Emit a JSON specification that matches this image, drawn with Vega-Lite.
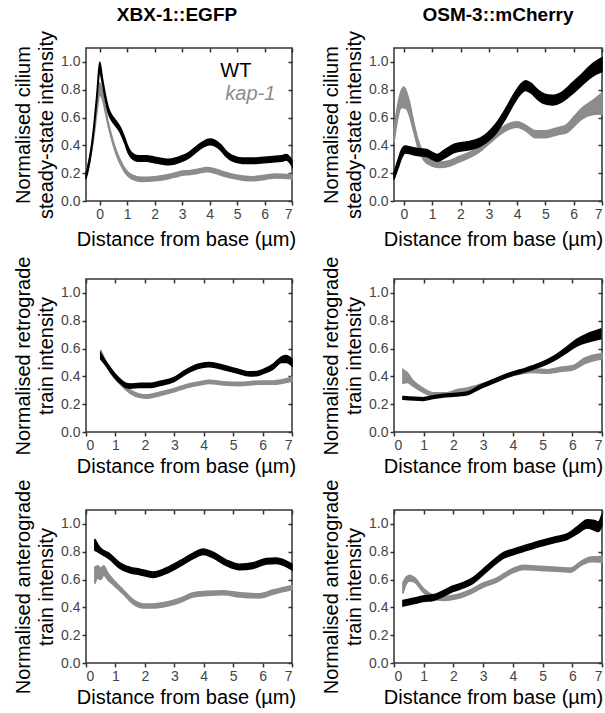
{
"$schema": "https://vega.github.io/schema/vega-lite/v6.json",
"padding": {"left": 12, "top": 4, "right": 0, "bottom": 0},
"bounds": "flush",
"columns": 2,
"spacing": {"row": 78, "column": 102},
"config": {
  "font": "Liberation Sans",
  "view": {"stroke": "#333", "strokeWidth": 1.5},
  "axis": {"domain": false, "grid": false, "tickColor": "#333", "tickWidth": 1.5, "tickSize": 4,
    "labelFont": "Liberation Sans", "labelFontSize": 14, "labelColor": "#444", "labelPadding": 2,
    "titleFont": "Liberation Sans", "titleFontSize": 20, "titleFontWeight": "normal", "titleColor": "#000"},
  "title": {"font": "Liberation Sans", "fontSize": 19, "fontWeight": "bold", "color": "#000", "anchor": "middle", "frame": "group", "offset": 6}
},
"datasets": {
"p1w": [
{"x":-0.5,"lo":0.16,"hi":0.2},{"x":-0.4,"lo":0.24,"hi":0.28},{"x":-0.3,"lo":0.36,"hi":0.4},{"x":-0.2,"lo":0.53,"hi":0.57},{"x":-0.1,"lo":0.74,"hi":0.78},{"x":0,"lo":0.93,"hi":1.0},{"x":0.1,"lo":0.84,"hi":0.88},{"x":0.2,"lo":0.73,"hi":0.77},{"x":0.3,"lo":0.64,"hi":0.68},{"x":0.4,"lo":0.59,"hi":0.63},{"x":0.5,"lo":0.56,"hi":0.6},{"x":0.6,"lo":0.535,"hi":0.575},{"x":0.75,"lo":0.49,"hi":0.53},{"x":0.9,"lo":0.42,"hi":0.46},{"x":1.05,"lo":0.34,"hi":0.38},{"x":1.2,"lo":0.3,"hi":0.34},{"x":1.4,"lo":0.285,"hi":0.325},{"x":1.7,"lo":0.285,"hi":0.325},{"x":2.0,"lo":0.275,"hi":0.315},{"x":2.5,"lo":0.26,"hi":0.3},{"x":3.0,"lo":0.285,"hi":0.325},{"x":3.25,"lo":0.31,"hi":0.35},{"x":3.5,"lo":0.35,"hi":0.39},{"x":3.75,"lo":0.385,"hi":0.425},{"x":4.0,"lo":0.405,"hi":0.445},{"x":4.2,"lo":0.395,"hi":0.435},{"x":4.4,"lo":0.365,"hi":0.405},{"x":4.6,"lo":0.32,"hi":0.36},{"x":4.8,"lo":0.29,"hi":0.33},{"x":5.2,"lo":0.27,"hi":0.31},{"x":5.7,"lo":0.27,"hi":0.31},{"x":6.3,"lo":0.28,"hi":0.32},{"x":6.6,"lo":0.285,"hi":0.325},{"x":6.8,"lo":0.295,"hi":0.335},{"x":6.9,"lo":0.28,"hi":0.32},{"x":7.0,"lo":0.25,"hi":0.29}
],
"p1k": [
{"x":-0.5,"lo":0.185,"hi":0.215},{"x":-0.4,"lo":0.255,"hi":0.285},{"x":-0.3,"lo":0.355,"hi":0.385},{"x":-0.2,"lo":0.48,"hi":0.52},{"x":-0.1,"lo":0.64,"hi":0.7},{"x":0,"lo":0.76,"hi":0.85},{"x":0.1,"lo":0.73,"hi":0.79},{"x":0.2,"lo":0.64,"hi":0.68},{"x":0.3,"lo":0.545,"hi":0.575},{"x":0.4,"lo":0.465,"hi":0.495},{"x":0.5,"lo":0.395,"hi":0.425},{"x":0.6,"lo":0.335,"hi":0.365},{"x":0.75,"lo":0.265,"hi":0.295},{"x":0.9,"lo":0.21,"hi":0.24},{"x":1.05,"lo":0.175,"hi":0.205},{"x":1.2,"lo":0.155,"hi":0.185},{"x":1.5,"lo":0.14,"hi":0.17},{"x":2.0,"lo":0.145,"hi":0.175},{"x":2.5,"lo":0.16,"hi":0.19},{"x":2.8,"lo":0.175,"hi":0.205},{"x":3.0,"lo":0.185,"hi":0.215},{"x":3.3,"lo":0.19,"hi":0.22},{"x":3.6,"lo":0.2,"hi":0.23},{"x":3.9,"lo":0.21,"hi":0.24},{"x":4.2,"lo":0.2,"hi":0.23},{"x":4.5,"lo":0.18,"hi":0.21},{"x":4.8,"lo":0.165,"hi":0.195},{"x":5.2,"lo":0.15,"hi":0.18},{"x":5.6,"lo":0.145,"hi":0.175},{"x":6.0,"lo":0.155,"hi":0.185},{"x":6.4,"lo":0.165,"hi":0.195},{"x":7.0,"lo":0.16,"hi":0.19}
],
"p2w": [
{"x":-0.35,"lo":0.155,"hi":0.205},{"x":-0.2,"lo":0.24,"hi":0.3},{"x":-0.1,"lo":0.3,"hi":0.36},{"x":0.05,"lo":0.345,"hi":0.395},{"x":0.3,"lo":0.335,"hi":0.385},{"x":0.55,"lo":0.325,"hi":0.375},{"x":0.8,"lo":0.32,"hi":0.37},{"x":1.0,"lo":0.3,"hi":0.35},{"x":1.18,"lo":0.285,"hi":0.335},{"x":1.45,"lo":0.31,"hi":0.37},{"x":1.8,"lo":0.35,"hi":0.41},{"x":2.2,"lo":0.365,"hi":0.425},{"x":2.55,"lo":0.38,"hi":0.44},{"x":2.9,"lo":0.42,"hi":0.48},{"x":3.25,"lo":0.485,"hi":0.555},{"x":3.6,"lo":0.595,"hi":0.665},{"x":3.95,"lo":0.72,"hi":0.79},{"x":4.15,"lo":0.775,"hi":0.845},{"x":4.3,"lo":0.795,"hi":0.865},{"x":4.5,"lo":0.775,"hi":0.845},{"x":4.7,"lo":0.735,"hi":0.805},{"x":4.95,"lo":0.7,"hi":0.77},{"x":5.25,"lo":0.69,"hi":0.76},{"x":5.6,"lo":0.715,"hi":0.785},{"x":5.95,"lo":0.77,"hi":0.85},{"x":6.3,"lo":0.835,"hi":0.915},{"x":6.65,"lo":0.895,"hi":0.985},{"x":7.0,"lo":0.93,"hi":1.03}
],
"p2k": [
{"x":-0.35,"lo":0.42,"hi":0.52},{"x":-0.2,"lo":0.61,"hi":0.71},{"x":-0.1,"lo":0.67,"hi":0.79},{"x":0.0,"lo":0.67,"hi":0.82},{"x":0.1,"lo":0.66,"hi":0.78},{"x":0.2,"lo":0.61,"hi":0.71},{"x":0.35,"lo":0.495,"hi":0.565},{"x":0.5,"lo":0.38,"hi":0.44},{"x":0.7,"lo":0.295,"hi":0.345},{"x":0.95,"lo":0.255,"hi":0.305},{"x":1.25,"lo":0.24,"hi":0.28},{"x":1.6,"lo":0.25,"hi":0.29},{"x":1.95,"lo":0.28,"hi":0.32},{"x":2.3,"lo":0.31,"hi":0.35},{"x":2.65,"lo":0.35,"hi":0.39},{"x":3.0,"lo":0.41,"hi":0.45},{"x":3.35,"lo":0.47,"hi":0.51},{"x":3.7,"lo":0.515,"hi":0.555},{"x":4.0,"lo":0.53,"hi":0.57},{"x":4.3,"lo":0.505,"hi":0.545},{"x":4.65,"lo":0.455,"hi":0.505},{"x":5.0,"lo":0.455,"hi":0.505},{"x":5.4,"lo":0.475,"hi":0.525},{"x":5.75,"lo":0.49,"hi":0.55},{"x":6.0,"lo":0.535,"hi":0.605},{"x":6.3,"lo":0.59,"hi":0.67},{"x":6.65,"lo":0.62,"hi":0.72},{"x":7.0,"lo":0.625,"hi":0.775}
],
"p3w": [
{"x":0.5,"lo":0.525,"hi":0.565},{"x":0.65,"lo":0.485,"hi":0.515},{"x":0.82,"lo":0.435,"hi":0.465},{"x":1.0,"lo":0.385,"hi":0.415},{"x":1.16,"lo":0.35,"hi":0.38},{"x":1.35,"lo":0.32,"hi":0.35},{"x":1.5,"lo":0.315,"hi":0.345},{"x":1.84,"lo":0.32,"hi":0.35},{"x":2.18,"lo":0.32,"hi":0.35},{"x":2.52,"lo":0.335,"hi":0.365},{"x":2.97,"lo":0.36,"hi":0.39},{"x":3.42,"lo":0.42,"hi":0.45},{"x":3.87,"lo":0.46,"hi":0.49},{"x":4.2,"lo":0.47,"hi":0.5},{"x":4.66,"lo":0.45,"hi":0.48},{"x":5.11,"lo":0.425,"hi":0.455},{"x":5.56,"lo":0.403,"hi":0.433},{"x":5.8,"lo":0.405,"hi":0.435},{"x":6.02,"lo":0.42,"hi":0.45},{"x":6.36,"lo":0.452,"hi":0.488},{"x":6.64,"lo":0.5,"hi":0.54},{"x":6.81,"lo":0.5,"hi":0.55},{"x":7.0,"lo":0.475,"hi":0.525}
],
"p3k": [
{"x":0.5,"lo":0.55,"hi":0.59},{"x":0.82,"lo":0.428,"hi":0.452},{"x":1.16,"lo":0.343,"hi":0.367},{"x":1.5,"lo":0.278,"hi":0.302},{"x":1.84,"lo":0.248,"hi":0.272},{"x":2.07,"lo":0.243,"hi":0.267},{"x":2.52,"lo":0.263,"hi":0.287},{"x":2.97,"lo":0.288,"hi":0.312},{"x":3.42,"lo":0.318,"hi":0.342},{"x":3.87,"lo":0.338,"hi":0.362},{"x":4.2,"lo":0.348,"hi":0.372},{"x":4.66,"lo":0.338,"hi":0.362},{"x":5.22,"lo":0.333,"hi":0.357},{"x":5.9,"lo":0.343,"hi":0.367},{"x":6.36,"lo":0.343,"hi":0.367},{"x":7.0,"lo":0.365,"hi":0.395}
],
"p4w": [
{"x":0.3,"lo":0.235,"hi":0.255},{"x":0.98,"lo":0.227,"hi":0.247},{"x":1.32,"lo":0.24,"hi":0.26},{"x":1.66,"lo":0.252,"hi":0.272},{"x":2.1,"lo":0.258,"hi":0.278},{"x":2.5,"lo":0.27,"hi":0.29},{"x":2.9,"lo":0.313,"hi":0.337},{"x":3.35,"lo":0.353,"hi":0.377},{"x":3.8,"lo":0.393,"hi":0.417},{"x":4.25,"lo":0.423,"hi":0.447},{"x":4.7,"lo":0.452,"hi":0.478},{"x":5.16,"lo":0.49,"hi":0.52},{"x":5.5,"lo":0.528,"hi":0.562},{"x":5.84,"lo":0.575,"hi":0.615},{"x":6.17,"lo":0.62,"hi":0.67},{"x":6.5,"lo":0.645,"hi":0.705},{"x":6.96,"lo":0.67,"hi":0.74}
],
"p4k": [
{"x":0.3,"lo":0.35,"hi":0.45},{"x":0.45,"lo":0.355,"hi":0.425},{"x":0.64,"lo":0.33,"hi":0.37},{"x":0.98,"lo":0.285,"hi":0.315},{"x":1.32,"lo":0.257,"hi":0.283},{"x":1.77,"lo":0.257,"hi":0.283},{"x":2.1,"lo":0.277,"hi":0.303},{"x":2.5,"lo":0.292,"hi":0.318},{"x":2.9,"lo":0.317,"hi":0.343},{"x":3.35,"lo":0.352,"hi":0.378},{"x":3.8,"lo":0.392,"hi":0.418},{"x":4.25,"lo":0.417,"hi":0.443},{"x":4.7,"lo":0.427,"hi":0.453},{"x":5.16,"lo":0.422,"hi":0.448},{"x":5.6,"lo":0.435,"hi":0.465},{"x":6.06,"lo":0.45,"hi":0.48},{"x":6.4,"lo":0.49,"hi":0.53},{"x":7.0,"lo":0.525,"hi":0.565}
],
"p5w": [
{"x":0.3,"lo":0.81,"hi":0.89},{"x":0.47,"lo":0.79,"hi":0.83},{"x":0.81,"lo":0.745,"hi":0.785},{"x":1.15,"lo":0.68,"hi":0.72},{"x":1.49,"lo":0.648,"hi":0.688},{"x":1.83,"lo":0.635,"hi":0.675},{"x":2.28,"lo":0.615,"hi":0.655},{"x":2.74,"lo":0.645,"hi":0.685},{"x":3.19,"lo":0.695,"hi":0.735},{"x":3.64,"lo":0.75,"hi":0.79},{"x":3.98,"lo":0.78,"hi":0.82},{"x":4.32,"lo":0.756,"hi":0.796},{"x":4.77,"lo":0.7,"hi":0.74},{"x":5.22,"lo":0.67,"hi":0.71},{"x":5.68,"lo":0.68,"hi":0.72},{"x":6.13,"lo":0.712,"hi":0.752},{"x":6.47,"lo":0.715,"hi":0.755},{"x":7.0,"lo":0.67,"hi":0.71}
],
"p5k": [
{"x":0.3,"lo":0.57,"hi":0.69},{"x":0.4,"lo":0.61,"hi":0.7},{"x":0.5,"lo":0.6,"hi":0.68},{"x":0.6,"lo":0.63,"hi":0.7},{"x":0.75,"lo":0.595,"hi":0.645},{"x":0.93,"lo":0.562,"hi":0.598},{"x":1.27,"lo":0.495,"hi":0.525},{"x":1.6,"lo":0.425,"hi":0.455},{"x":1.95,"lo":0.395,"hi":0.425},{"x":2.28,"lo":0.395,"hi":0.425},{"x":2.74,"lo":0.408,"hi":0.438},{"x":3.19,"lo":0.435,"hi":0.465},{"x":3.64,"lo":0.475,"hi":0.505},{"x":4.1,"lo":0.485,"hi":0.515},{"x":4.66,"lo":0.49,"hi":0.52},{"x":5.22,"lo":0.475,"hi":0.505},{"x":5.9,"lo":0.468,"hi":0.498},{"x":6.36,"lo":0.495,"hi":0.525},{"x":7.0,"lo":0.528,"hi":0.558}
],
"p6w": [
{"x":0.3,"lo":0.41,"hi":0.45},{"x":0.64,"lo":0.425,"hi":0.465},{"x":0.98,"lo":0.442,"hi":0.482},{"x":1.32,"lo":0.45,"hi":0.49},{"x":1.66,"lo":0.48,"hi":0.52},{"x":2.0,"lo":0.515,"hi":0.555},{"x":2.34,"lo":0.54,"hi":0.58},{"x":2.67,"lo":0.575,"hi":0.615},{"x":3.0,"lo":0.635,"hi":0.675},{"x":3.35,"lo":0.7,"hi":0.74},{"x":3.69,"lo":0.755,"hi":0.795},{"x":4.03,"lo":0.78,"hi":0.82},{"x":4.48,"lo":0.81,"hi":0.85},{"x":4.93,"lo":0.84,"hi":0.88},{"x":5.38,"lo":0.865,"hi":0.905},{"x":5.84,"lo":0.89,"hi":0.93},{"x":6.17,"lo":0.93,"hi":0.98},{"x":6.51,"lo":0.97,"hi":1.03},{"x":6.74,"lo":0.955,"hi":1.025},{"x":6.88,"lo":0.945,"hi":1.015},{"x":7.0,"lo":0.99,"hi":1.07}
],
"p6k": [
{"x":0.3,"lo":0.5,"hi":0.58},{"x":0.42,"lo":0.57,"hi":0.62},{"x":0.53,"lo":0.59,"hi":0.63},{"x":0.7,"lo":0.58,"hi":0.612},{"x":0.98,"lo":0.509,"hi":0.539},{"x":1.26,"lo":0.465,"hi":0.495},{"x":1.66,"lo":0.449,"hi":0.479},{"x":2.1,"lo":0.461,"hi":0.491},{"x":2.56,"lo":0.495,"hi":0.525},{"x":3.0,"lo":0.545,"hi":0.575},{"x":3.46,"lo":0.581,"hi":0.611},{"x":3.92,"lo":0.641,"hi":0.671},{"x":4.37,"lo":0.672,"hi":0.702},{"x":4.93,"lo":0.665,"hi":0.695},{"x":5.6,"lo":0.657,"hi":0.687},{"x":5.95,"lo":0.653,"hi":0.683},{"x":6.29,"lo":0.701,"hi":0.731},{"x":6.63,"lo":0.728,"hi":0.762},{"x":7.0,"lo":0.725,"hi":0.765}
]
},
"concat": [
{
 "width": 206, "height": 153,
 "title": {"text": "XBX-1::EGFP", "dx": -12},
 "resolve": {"axis": {"x": "independent", "y": "independent"}},
 "layer": [
  {"data": {"name": "p1k"}, "mark": {"type": "area", "interpolate": "monotone", "color": "#8c8c8c", "stroke": "#8c8c8c", "strokeWidth": 1.5},
   "encoding": {"x": {"field": "x", "type": "quantitative", "scale": {"domain": [-0.5, 7], "nice": false, "zero": false}, "axis": {"values": [0,1,2,3,4,5,6,7], "format": "d", "title": "Distance from base (µm)", "titlePadding": 8, "titleX": 100}},
    "y": {"field": "lo", "type": "quantitative", "scale": {"domain": [0, 1.1], "nice": false}, "axis": {"values": [0,0.2,0.4,0.6,0.8,1.0], "format": ".1f", "title": ["Normalised cilium", "steady-state intensity"], "titleLineHeight": 23, "titlePadding": 4}},
    "y2": {"field": "hi"}}},
  {"data": {"name": "p1w"}, "mark": {"type": "area", "interpolate": "monotone", "color": "#000", "stroke": "#000", "strokeWidth": 1.5},
   "encoding": {"x": {"field": "x", "type": "quantitative", "axis": {"orient": "top", "values": [0,1,2,3,4,5,6,7], "labels": false, "title": null, "offset": -4}},
    "y": {"field": "lo", "type": "quantitative", "axis": {"orient": "right", "values": [0,0.2,0.4,0.6,0.8,1.0], "labels": false, "title": null, "offset": -4}},
    "y2": {"field": "hi"}}},
  {"data": {"values": [{"t": "WT", "x": 4.39, "y": 0.936}]}, "mark": {"type": "text", "align": "left", "baseline": "middle", "fontSize": 20, "color": "#000"},
   "encoding": {"x": {"field": "x", "type": "quantitative", "axis": null}, "y": {"field": "y", "type": "quantitative", "axis": null}, "text": {"field": "t"}}},
  {"data": {"values": [{"t": "kap-1", "x": 4.57, "y": 0.766}]}, "mark": {"type": "text", "align": "left", "baseline": "middle", "fontSize": 20, "fontStyle": "italic", "color": "#8c8c8c"},
   "encoding": {"x": {"field": "x", "type": "quantitative", "axis": null}, "y": {"field": "y", "type": "quantitative", "axis": null}, "text": {"field": "t"}}}
 ]
},
{
 "width": 208, "height": 153,
 "title": {"text": "OSM-3::mCherry"},
 "resolve": {"axis": {"x": "independent", "y": "independent"}},
 "layer": [
  {"data": {"name": "p2k"}, "mark": {"type": "area", "interpolate": "monotone", "color": "#8c8c8c", "stroke": "#8c8c8c", "strokeWidth": 1.5},
   "encoding": {"x": {"field": "x", "type": "quantitative", "scale": {"domain": [-0.35, 7], "nice": false, "zero": false}, "axis": {"values": [0,1,2,3,4,5,6,7], "format": "d", "title": "Distance from base (µm)", "titlePadding": 8, "titleX": 99}},
    "y": {"field": "lo", "type": "quantitative", "scale": {"domain": [0, 1.1], "nice": false}, "axis": {"values": [0,0.2,0.4,0.6,0.8,1.0], "format": ".1f", "title": ["Normalised cilium", "steady-state intensity"], "titleLineHeight": 23, "titlePadding": 4}},
    "y2": {"field": "hi"}}},
  {"data": {"name": "p2w"}, "mark": {"type": "area", "interpolate": "monotone", "color": "#000", "stroke": "#000", "strokeWidth": 1.5},
   "encoding": {"x": {"field": "x", "type": "quantitative", "axis": {"orient": "top", "values": [0,1,2,3,4,5,6,7], "labels": false, "title": null, "offset": -4}},
    "y": {"field": "lo", "type": "quantitative", "axis": {"orient": "right", "values": [0,0.2,0.4,0.6,0.8,1.0], "labels": false, "title": null, "offset": -4}},
    "y2": {"field": "hi"}}}
 ]
},
{
 "width": 206, "height": 153,
 "resolve": {"axis": {"x": "independent", "y": "independent"}},
 "layer": [
  {"data": {"name": "p3k"}, "mark": {"type": "area", "interpolate": "monotone", "color": "#8c8c8c", "stroke": "#8c8c8c", "strokeWidth": 1.5},
   "encoding": {"x": {"field": "x", "type": "quantitative", "scale": {"domain": [0, 7], "nice": false, "zero": false}, "axis": {"values": [0,1,2,3,4,5,6,7], "format": "d", "title": "Distance from base (µm)", "titlePadding": 4, "titleX": 100}},
    "y": {"field": "lo", "type": "quantitative", "scale": {"domain": [0, 1.1], "nice": false}, "axis": {"values": [0,0.2,0.4,0.6,0.8,1.0], "format": ".1f", "title": ["Normalised retrograde", "train intensity"], "titleLineHeight": 23, "titlePadding": 4}},
    "y2": {"field": "hi"}}},
  {"data": {"name": "p3w"}, "mark": {"type": "area", "interpolate": "monotone", "color": "#000", "stroke": "#000", "strokeWidth": 1.5},
   "encoding": {"x": {"field": "x", "type": "quantitative", "axis": {"orient": "top", "values": [0,1,2,3,4,5,6,7], "labels": false, "title": null, "offset": -4}},
    "y": {"field": "lo", "type": "quantitative", "axis": {"orient": "right", "values": [0,0.2,0.4,0.6,0.8,1.0], "labels": false, "title": null, "offset": -4}},
    "y2": {"field": "hi"}}}
 ]
},
{
 "width": 208, "height": 153,
 "resolve": {"axis": {"x": "independent", "y": "independent"}},
 "layer": [
  {"data": {"name": "p4k"}, "mark": {"type": "area", "interpolate": "monotone", "color": "#8c8c8c", "stroke": "#8c8c8c", "strokeWidth": 1.5},
   "encoding": {"x": {"field": "x", "type": "quantitative", "scale": {"domain": [0, 7], "nice": false, "zero": false}, "axis": {"values": [0,1,2,3,4,5,6,7], "format": "d", "title": "Distance from base (µm)", "titlePadding": 4, "titleX": 99}},
    "y": {"field": "lo", "type": "quantitative", "scale": {"domain": [0, 1.1], "nice": false}, "axis": {"values": [0,0.2,0.4,0.6,0.8,1.0], "format": ".1f", "title": ["Normalised retrograde", "train intensity"], "titleLineHeight": 23, "titlePadding": 4}},
    "y2": {"field": "hi"}}},
  {"data": {"name": "p4w"}, "mark": {"type": "area", "interpolate": "monotone", "color": "#000", "stroke": "#000", "strokeWidth": 1.5},
   "encoding": {"x": {"field": "x", "type": "quantitative", "axis": {"orient": "top", "values": [0,1,2,3,4,5,6,7], "labels": false, "title": null, "offset": -4}},
    "y": {"field": "lo", "type": "quantitative", "axis": {"orient": "right", "values": [0,0.2,0.4,0.6,0.8,1.0], "labels": false, "title": null, "offset": -4}},
    "y2": {"field": "hi"}}}
 ]
},
{
 "width": 206, "height": 153,
 "resolve": {"axis": {"x": "independent", "y": "independent"}},
 "layer": [
  {"data": {"name": "p5k"}, "mark": {"type": "area", "interpolate": "monotone", "color": "#8c8c8c", "stroke": "#8c8c8c", "strokeWidth": 1.5},
   "encoding": {"x": {"field": "x", "type": "quantitative", "scale": {"domain": [0, 7], "nice": false, "zero": false}, "axis": {"values": [0,1,2,3,4,5,6,7], "format": "d", "title": "Distance from base (µm)", "titlePadding": 4, "titleX": 100}},
    "y": {"field": "lo", "type": "quantitative", "scale": {"domain": [0, 1.1], "nice": false}, "axis": {"values": [0,0.2,0.4,0.6,0.8,1.0], "format": ".1f", "title": ["Normalised anterograde", "train intensity"], "titleLineHeight": 23, "titlePadding": 4}},
    "y2": {"field": "hi"}}},
  {"data": {"name": "p5w"}, "mark": {"type": "area", "interpolate": "monotone", "color": "#000", "stroke": "#000", "strokeWidth": 1.5},
   "encoding": {"x": {"field": "x", "type": "quantitative", "axis": {"orient": "top", "values": [0,1,2,3,4,5,6,7], "labels": false, "title": null, "offset": -4}},
    "y": {"field": "lo", "type": "quantitative", "axis": {"orient": "right", "values": [0,0.2,0.4,0.6,0.8,1.0], "labels": false, "title": null, "offset": -4}},
    "y2": {"field": "hi"}}}
 ]
},
{
 "width": 208, "height": 153,
 "resolve": {"axis": {"x": "independent", "y": "independent"}},
 "layer": [
  {"data": {"name": "p6k"}, "mark": {"type": "area", "interpolate": "monotone", "color": "#8c8c8c", "stroke": "#8c8c8c", "strokeWidth": 1.5},
   "encoding": {"x": {"field": "x", "type": "quantitative", "scale": {"domain": [0, 7], "nice": false, "zero": false}, "axis": {"values": [0,1,2,3,4,5,6,7], "format": "d", "title": "Distance from base (µm)", "titlePadding": 4, "titleX": 99}},
    "y": {"field": "lo", "type": "quantitative", "scale": {"domain": [0, 1.1], "nice": false}, "axis": {"values": [0,0.2,0.4,0.6,0.8,1.0], "format": ".1f", "title": ["Normalised anterograde", "train intensity"], "titleLineHeight": 23, "titlePadding": 4}},
    "y2": {"field": "hi"}}},
  {"data": {"name": "p6w"}, "mark": {"type": "area", "interpolate": "monotone", "color": "#000", "stroke": "#000", "strokeWidth": 1.5},
   "encoding": {"x": {"field": "x", "type": "quantitative", "axis": {"orient": "top", "values": [0,1,2,3,4,5,6,7], "labels": false, "title": null, "offset": -4}},
    "y": {"field": "lo", "type": "quantitative", "axis": {"orient": "right", "values": [0,0.2,0.4,0.6,0.8,1.0], "labels": false, "title": null, "offset": -4}},
    "y2": {"field": "hi"}}}
 ]
}
]
}
